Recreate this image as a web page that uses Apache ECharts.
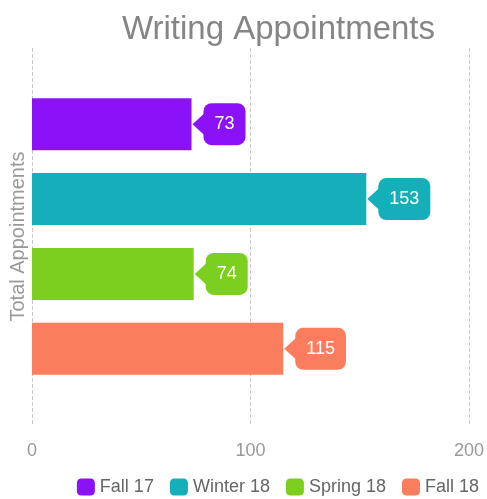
<!DOCTYPE html>
<html>
<head>
<meta charset="utf-8">
<title>Writing Appointments</title>
<script src="https://cdn.jsdelivr.net/npm/echarts@6/dist/echarts.min.js"></script>
<style>
  html, body { margin: 0; padding: 0; background: #fff; }
  #chart { width: 487px; height: 499px; }
</style>
</head>
<body>
<div id="chart"></div>
<script>
// data
var terms = ["Fall 17", "Winter 18", "Spring 18", "Fall 18"];
var appointments = [73, 153, 74, 115];
var termColors = ["#8b12f6", "#14afb8", "#7ccf1e", "#fa7d5e"];
var xTicks = { min: 0, max: 200, interval: 100 };

var chart = echarts.init(document.getElementById("chart"));

var series = terms.map(function (name, i) {
  return {
    name: name,
    type: "bar",
    barWidth: 52,
    barGap: "44%",
    itemStyle: { color: termColors[i] },
    label: {
      show: true,
      position: "right",
      distance: 12,
      color: "#fff",
      fontSize: 18,
      lineHeight: 18,
      fontFamily: "Liberation Sans",
      backgroundColor: termColors[i],
      borderRadius: 8,
      padding: [12, 11]
    },
    // little arrow that points from the label to the bar end
    markPoint: {
      symbol: "triangle",
      symbolSize: [22, 12],
      symbolRotate: 90,
      symbolOffset: [7, 0],
      itemStyle: { color: termColors[i] },
      label: { show: false },
      data: [{ coord: [appointments[i], 0] }]
    },
    data: [appointments[i]]
  };
});

var option = {
  animation: false,
  title: {
    text: "Writing Appointments",
    left: 117,
    top: 8,
    textStyle: {
      fontSize: 33,
      fontWeight: "normal",
      color: "#858585",
      fontFamily: "Liberation Sans"
    }
  },
  legend: {
    data: terms,
    right: 3,
    bottom: -2,
    icon: "roundRect",
    itemWidth: 18,
    itemHeight: 17,
    itemGap: 16,
    textStyle: { fontSize: 18, color: "#666", fontFamily: "Liberation Sans" }
  },
  grid: { left: 31, right: 18, top: 48, bottom: 74 },
  xAxis: {
    type: "value",
    min: xTicks.min,
    max: xTicks.max,
    interval: xTicks.interval,
    axisLine: { show: false },
    axisTick: { show: false },
    axisLabel: { color: "#999", fontSize: 18, margin: 17, fontFamily: "Liberation Sans" },
    splitLine: { lineStyle: { type: "dashed", color: "#c8c8c8" } }
  },
  yAxis: {
    type: "category",
    data: [""],
    inverse: true,
    name: "Total Appointments",
    nameLocation: "middle",
    nameGap: 4,
    nameTextStyle: { color: "#999", fontSize: 20, fontFamily: "Liberation Sans" },
    axisLine: { show: false },
    axisTick: { show: false },
    axisLabel: { show: false }
  },
  series: series
};

chart.setOption(option);
window.addEventListener("resize", function () {
  chart.resize();
});
</script>
</body>
</html>
